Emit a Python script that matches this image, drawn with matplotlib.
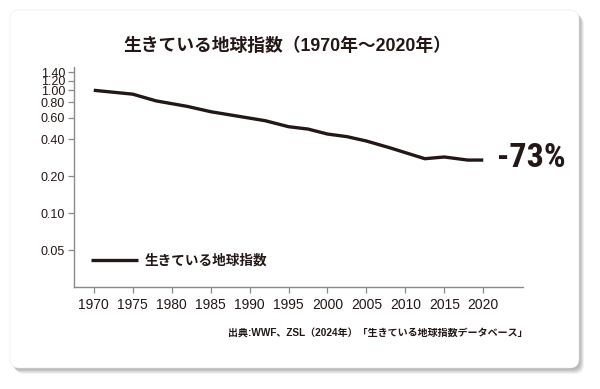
import matplotlib
matplotlib.use("Agg")
import matplotlib.pyplot as plt
from matplotlib.patches import FancyBboxPatch
from matplotlib.ticker import FixedLocator, NullLocator

# ---- data ----
years = [1970, 1975, 1978, 1982, 1985, 1992, 1995, 1997.5, 2000, 2002.5,
         2005, 2008, 2012.5, 2015, 2018, 2020]
lpi = [1.00, 0.93, 0.82, 0.74, 0.67, 0.566, 0.506, 0.484, 0.441, 0.42,
       0.387, 0.341, 0.278, 0.287, 0.271, 0.271]
xticks = [1970, 1975, 1980, 1985, 1990, 1995, 2000, 2005, 2010, 2015, 2020]
yticks = [0.05, 0.10, 0.20, 0.40, 0.60, 0.80, 1.00, 1.20, 1.40]
ytick_labels = ["0.05", "0.10", "0.20", "0.40", "0.60", "0.80", "1.00", "1.20", "1.40"]
title = "生きている地球指数（1970年～2020年）"
legend_label = "生きている地球指数"
change_label = "-73%"
source = "出典:WWF、ZSL（2024年）「生きている地球指数データベース」"

INK = "#231815"
JP = ["Noto Sans CJK JP", "DejaVu Sans"]
MIX = ["Liberation Sans", "Noto Sans CJK JP", "DejaVu Sans"]
LAT = ["Liberation Sans", "DejaVu Sans"]
COND = ["Roboto Condensed", "Liberation Sans Narrow", "DejaVu Sans Condensed",
        "Open Sans Condensed", "Liberation Sans"]

W, H = 600, 389
fig = plt.figure(figsize=(W / 100, H / 100), dpi=100)
fig.patch.set_facecolor("white")

# background card with soft shadow
bg = fig.add_axes([0, 0, 1, 1], zorder=-5)
bg.set_xlim(0, W)
bg.set_ylim(H, 0)
bg.axis("off")
for i in range(10, 0, -1):
    sh = FancyBboxPatch((10 + i * 0.5, 10 + i * 0.6), 569, 358,
                        boxstyle="round,pad=0,rounding_size=9",
                        fc="#000000", ec="none", alpha=0.035)
    bg.add_patch(sh)
card = FancyBboxPatch((10, 10), 569, 358, boxstyle="round,pad=0,rounding_size=9",
                      fc="white", ec="#ececec", lw=0.5)
bg.add_patch(card)

bg.text(287.5, 46, title, ha="center", va="center", fontsize=12.8,
        fontweight="bold", family=MIX, color=INK)
bg.text(528, 333, source, ha="right", va="center", fontsize=7.2,
        fontweight="bold", family=MIX, color=INK)

# main axes
left, right, top, bottom = 73.5, 523, 67, 287
ax = fig.add_axes([left / W, 1 - bottom / H, (right - left) / W, (bottom - top) / H])
ax.patch.set_alpha(0)
ax.plot(years, lpi, color=INK, lw=2.4, solid_capstyle="butt", label=legend_label)
ax.set_yscale("log")
ax.set_xlim(1967.4, 2025.1)
ax.set_ylim(0.0252, 1.546)
ax.yaxis.set_major_locator(FixedLocator(yticks))
ax.yaxis.set_minor_locator(NullLocator())
ax.set_yticklabels(ytick_labels)
ax.set_xticks(xticks)
ax.set_xticklabels([str(x) for x in xticks])
for s in ["top", "right"]:
    ax.spines[s].set_visible(False)
for s in ["left", "bottom"]:
    ax.spines[s].set_color("#8a8a8a")
    ax.spines[s].set_linewidth(1.0)
ax.tick_params(axis="both", which="major", length=4, width=0.9, color="#8a8a8a",
               labelcolor=INK, pad=2)
ax.tick_params(axis="x", pad=4)
for lab in ax.get_xticklabels():
    lab.set_family(LAT)
    lab.set_fontsize(10)
for lab in ax.get_yticklabels():
    lab.set_family(LAT)
    lab.set_fontsize(9)

leg = ax.legend(loc="center left", bbox_to_anchor=(0.04, 0.12), frameon=False,
                borderaxespad=0, borderpad=0, handlelength=3.4, handletextpad=0.5,
                prop={"family": JP, "weight": "bold", "size": 9.8})
for t in leg.get_texts():
    t.set_color(INK)

bg.text(497, 157.5, change_label, ha="left", va="center", fontsize=24.5,
        fontweight="bold", family=COND, fontstretch="condensed", color=INK)

fig.savefig("out.png", dpi=100)
